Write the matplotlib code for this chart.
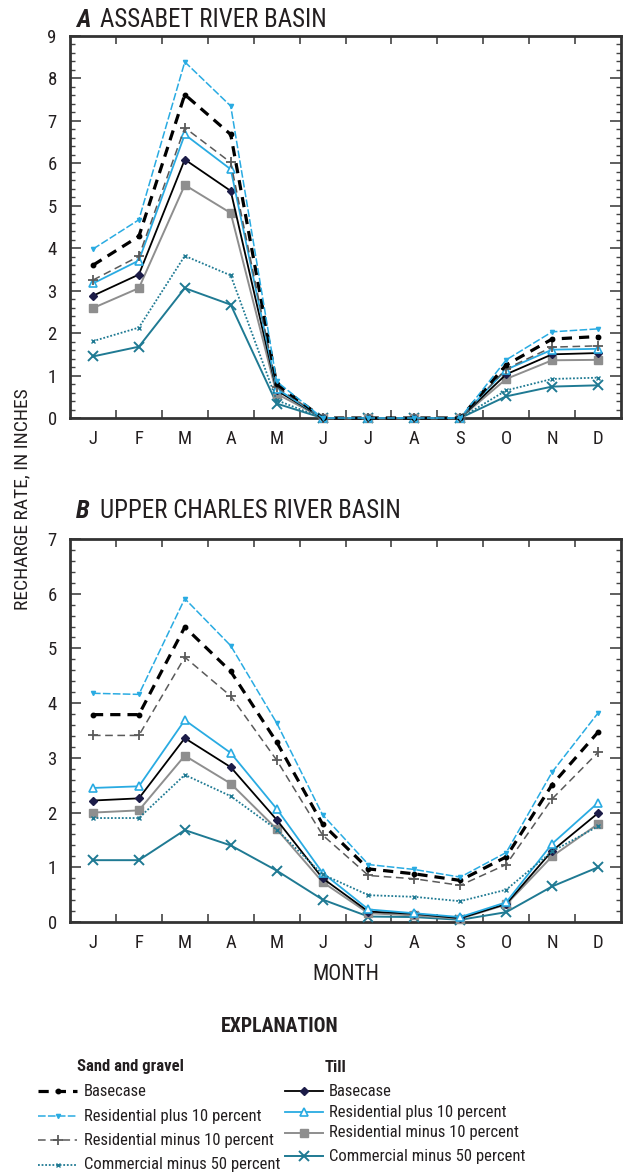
import matplotlib
matplotlib.use("Agg")
import matplotlib.pyplot as plt
from matplotlib import font_manager
from matplotlib.lines import Line2D
import numpy as np

# condensed face if present, else a plain sans
_disponibles = {f.name for f in font_manager.fontManager.ttflist}
FUENTES = [f for f in ['Roboto Condensed', 'Archivo Narrow', 'Liberation Sans Narrow',
                       'Roboto', 'DejaVu Sans'] if f in _disponibles]
ESTRECHA = FUENTES[0] in ('Roboto Condensed', 'Archivo Narrow', 'Liberation Sans Narrow')
K = 1.0 if ESTRECHA else 0.82
plt.rcParams['font.family'] = FUENTES

# ---------------------------------------------------------------
# data, inches per month
# ---------------------------------------------------------------
MONTHS = ['J', 'F', 'M', 'A', 'M', 'J', 'J', 'A', 'S', 'O', 'N', 'D']

# A  Assabet River basin
a_sg_base = [3.60, 4.28, 7.62, 6.68, 0.80, 0, 0, 0, 0, 1.25, 1.86, 1.92]
a_sg_resp = [3.98, 4.67, 8.39, 7.35, 0.86, 0, 0, 0, 0, 1.37, 2.03, 2.10]
a_sg_resm = [3.25, 3.81, 6.84, 6.02, 0.73, 0, 0, 0, 0, 1.16, 1.67, 1.70]
a_sg_com = [1.81, 2.13, 3.82, 3.36, 0.42, 0, 0, 0, 0, 0.65, 0.92, 0.95]
a_ti_base = [2.88, 3.38, 6.09, 5.35, 0.65, 0, 0, 0, 0, 1.03, 1.50, 1.53]
a_ti_resp = [3.17, 3.71, 6.68, 5.86, 0.69, 0, 0, 0, 0, 1.14, 1.61, 1.63]
a_ti_resm = [2.59, 3.06, 5.49, 4.83, 0.57, 0, 0, 0, 0, 0.92, 1.36, 1.37]
a_ti_com = [1.45, 1.68, 3.06, 2.67, 0.34, 0, 0, 0, 0, 0.51, 0.74, 0.77]

# B  Upper Charles River basin
b_sg_base = [3.79, 3.79, 5.39, 4.58, 3.29, 1.79, 0.97, 0.88, 0.76, 1.19, 2.51, 3.47]
b_sg_resp = [4.18, 4.16, 5.91, 5.05, 3.64, 1.96, 1.05, 0.96, 0.82, 1.27, 2.74, 3.82]
b_sg_resm = [3.41, 3.41, 4.84, 4.13, 2.96, 1.59, 0.85, 0.79, 0.67, 1.05, 2.25, 3.10]
b_sg_com = [1.90, 1.90, 2.69, 2.30, 1.69, 0.87, 0.49, 0.46, 0.38, 0.59, 1.29, 1.75]
b_ti_base = [2.22, 2.26, 3.36, 2.83, 1.87, 0.80, 0.19, 0.15, 0.07, 0.33, 1.30, 1.99]
b_ti_resp = [2.45, 2.48, 3.69, 3.09, 2.07, 0.90, 0.23, 0.16, 0.09, 0.36, 1.43, 2.18]
b_ti_resm = [2.00, 2.04, 3.04, 2.53, 1.70, 0.73, 0.16, 0.12, 0.06, 0.32, 1.20, 1.79]
b_ti_com = [1.13, 1.13, 1.68, 1.40, 0.94, 0.41, 0.10, 0.09, 0.04, 0.18, 0.65, 1.00]

BLUE = '#29abe2'
TEAL = '#1f7a93'
GRAY = '#8e8e8e'
DGRAY = '#5a5a5a'
NAVY = '#1c1c48'
TXT = '#231f20'

STYLES = {
    'sg_base': dict(color='black', ls=(0, (3.2, 2.2)), lw=2.3, marker='o', ms=3.2),
    'sg_resp': dict(color=BLUE, ls=(0, (5, 1.5)), lw=1.1, marker='v', ms=3),
    'sg_resm': dict(color=DGRAY, ls=(0, (5, 3)), lw=1.1, marker='+', ms=7, mew=1.3),
    'sg_com': dict(color=TEAL, ls=(0, (1, 1)), lw=1.3, marker='x', ms=3.5, mew=1),
    'ti_base': dict(color='black', ls='-', lw=1.3, marker='D', ms=4.5, mfc=NAVY, mec=NAVY),
    'ti_resp': dict(color=BLUE, ls='-', lw=1.3, marker='^', ms=6, mfc='white', mec=BLUE, mew=1.2),
    'ti_resm': dict(color=GRAY, ls='-', lw=1.4, marker='s', ms=5.5, mfc=GRAY, mec=GRAY),
    'ti_com': dict(color=TEAL, ls='-', lw=1.4, marker='x', ms=7, mew=1.4),
}

ORDER = ['ti_com', 'ti_resm', 'ti_base', 'ti_resp', 'sg_com', 'sg_resm', 'sg_base', 'sg_resp']


def dibujar_panel(ax, series, ymax):
    x = np.arange(1, 13)
    for clave in ORDER:
        ax.plot(x, series[clave], **STYLES[clave], clip_on=False, zorder=3)

    ax.set_xlim(0.5, 12.5)
    ax.set_ylim(0, ymax)
    ax.set_xticks(x)
    ax.set_xticklabels(MONTHS, fontsize=13.5 * K, color=TXT)
    ax.set_xticks(np.arange(1.5, 12.5, 1), minor=True)
    ax.tick_params(axis='x', which='major', length=0, pad=9)
    ax.tick_params(axis='x', which='minor', direction='in', length=6,
                   width=1.2, top=True, bottom=True, color='#444444')
    ax.set_yticks(np.arange(0, ymax + 1, 1))
    ax.set_yticks(np.arange(0, ymax + 0.01, 0.2), minor=True)
    ax.tick_params(axis='y', which='major', direction='in', length=8, width=1.2,
                   left=True, right=True, labelsize=13.5 * K, labelcolor=TXT, pad=9.5,
                   color='#444444')
    ax.tick_params(axis='y', which='minor', direction='in', length=3.5, width=1,
                   left=True, right=True, color='#444444')
    for s in ax.spines.values():
        s.set_linewidth(2)
        s.set_color('#333333')


fig = plt.figure(figsize=(6.43, 11.75), dpi=100)
ax_a = fig.add_axes([70 / 643, 1 - 418 / 1175, 551 / 643, 382 / 1175])
ax_b = fig.add_axes([70 / 643, 1 - 922 / 1175, 551 / 643, 383 / 1175])

dibujar_panel(ax_a, dict(sg_base=a_sg_base, sg_resp=a_sg_resp, sg_resm=a_sg_resm,
                         sg_com=a_sg_com, ti_base=a_ti_base, ti_resp=a_ti_resp,
                         ti_resm=a_ti_resm, ti_com=a_ti_com), 9)
dibujar_panel(ax_b, dict(sg_base=b_sg_base, sg_resp=b_sg_resp, sg_resm=b_sg_resm,
                         sg_com=b_sg_com, ti_base=b_ti_base, ti_resp=b_ti_resp,
                         ti_resm=b_ti_resm, ti_com=b_ti_com), 7)

# texts and explanation placed in pixel coords of the picture
leg = fig.add_axes([0, 0, 1, 1], facecolor='none', zorder=-1)
leg.set_xlim(0, 643)
leg.set_ylim(1175, 0)
leg.axis('off')

for letra, titulo, yb in [('A', 'ASSABET RIVER BASIN', 27), ('B', 'UPPER CHARLES RIVER BASIN', 518)]:
    leg.text(76, yb, letra, fontsize=18 * K, fontweight='bold', style='italic',
             va='baseline', ha='left', color=TXT)
    leg.text(100, yb, titulo, fontsize=18 * K, va='baseline', ha='left', color=TXT)

leg.text(22, 499, 'RECHARGE RATE, IN INCHES', rotation=90, fontsize=14 * K,
         ha='center', va='center', color=TXT)
leg.text(346, 975, 'MONTH', fontsize=15.5 * K, ha='center', va='center', color=TXT)
leg.text(280, 1027, 'EXPLANATION', fontsize=14.3 * K, fontweight='bold',
         ha='center', va='center', color=TXT)

leg.text(77, 1067, 'Sand and gravel', fontsize=12 * K, fontweight='bold',
         ha='left', va='center', color=TXT)
leg.text(325, 1067, 'Till', fontsize=12 * K, fontweight='bold',
         ha='left', va='center', color=TXT)

sg_items = [('sg_base', 'Basecase', 1091), ('sg_resp', 'Residential plus 10 percent', 1116),
            ('sg_resm', 'Residential minus 10 percent', 1140),
            ('sg_com', 'Commercial minus 50 percent', 1165)]
ti_items = [('ti_base', 'Basecase', 1091), ('ti_resp', 'Residential plus 10 percent', 1112),
            ('ti_resm', 'Residential minus 10 percent', 1133),
            ('ti_com', 'Commercial minus 50 percent', 1156)]

for clave, etiqueta, yy in sg_items:
    leg.add_line(Line2D([38, 57.5, 77], [yy, yy, yy], markevery=[1], **STYLES[clave]))
    leg.text(84, yy, etiqueta, fontsize=12 * K, va='center', ha='left', color=TXT)

for clave, etiqueta, yy in ti_items:
    leg.add_line(Line2D([285, 304, 323], [yy, yy, yy], markevery=[1], **STYLES[clave]))
    leg.text(329, yy, etiqueta, fontsize=12 * K, va='center', ha='left', color=TXT)

fig.savefig('out.png', dpi=100)
